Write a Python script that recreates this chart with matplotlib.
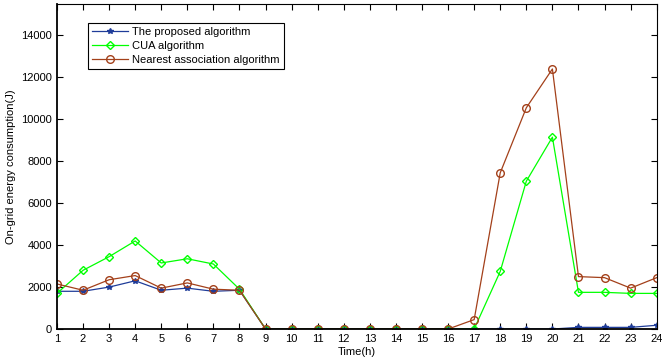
import matplotlib.pyplot as plt

plt.rcParams['font.family'] = ['Liberation Sans', 'DejaVu Sans']

hours = list(range(1, 25))
proposed = [1800, 1800, 2000, 2300, 1850, 1950, 1800, 1850,
            0, 0, 0, 0, 0, 0, 0, 0, 0, 0, 0, 0, 80, 80, 80, 180]
cua = [1700, 2800, 3450, 4200, 3150, 3350, 3100, 1900,
       0, 0, 0, 0, 0, 0, 0, 0, 0, 2750, 7050, 9150, 1750, 1750, 1700, 1700]
nearest = [2150, 1850, 2350, 2550, 1950, 2200, 1900, 1850,
           0, 0, 0, 0, 0, 0, 0, 0, 450, 7450, 10550, 12400, 2500, 2450, 1950, 2450]

fig = plt.figure(figsize=(6.62, 3.6), dpi=100)
ax = fig.add_axes([0.086, 0.086, 0.906, 0.903])

ax.plot(hours, proposed, marker='*', markersize=4, color='#1f3c99',
        linewidth=0.9, label='The proposed algorithm')
ax.plot(hours, cua, marker='D', markersize=4, markerfacecolor='none',
        color='#00ff00', linewidth=0.9, label='CUA algorithm')
ax.plot(hours, nearest, marker='o', markersize=5.5, markerfacecolor='none',
        color='#a3401a', linewidth=0.9, label='Nearest association algorithm')

ax.set_xlim(1, 24)
ax.set_ylim(0, 15500)
ax.set_xticks(hours)
ax.set_yticks(range(0, 14001, 2000))
ax.tick_params(direction='in', top=True, right=True, labelsize=8, length=4)
for side in ['left', 'bottom']:
    ax.spines[side].set_linewidth(1.3)

ax.set_xlabel('Time(h)', fontsize=8, labelpad=2)
ax.set_ylabel('On-grid energy consumption(J)', fontsize=8)

leg = ax.legend(loc='upper left', bbox_to_anchor=(0.042, 0.96), fontsize=8,
                fancybox=False, edgecolor='black', framealpha=1,
                borderpad=0.4, labelspacing=0.35, handlelength=3.2,
                handletextpad=0.4)
leg.get_frame().set_linewidth(0.8)

plt.savefig('out.png', dpi=100)
